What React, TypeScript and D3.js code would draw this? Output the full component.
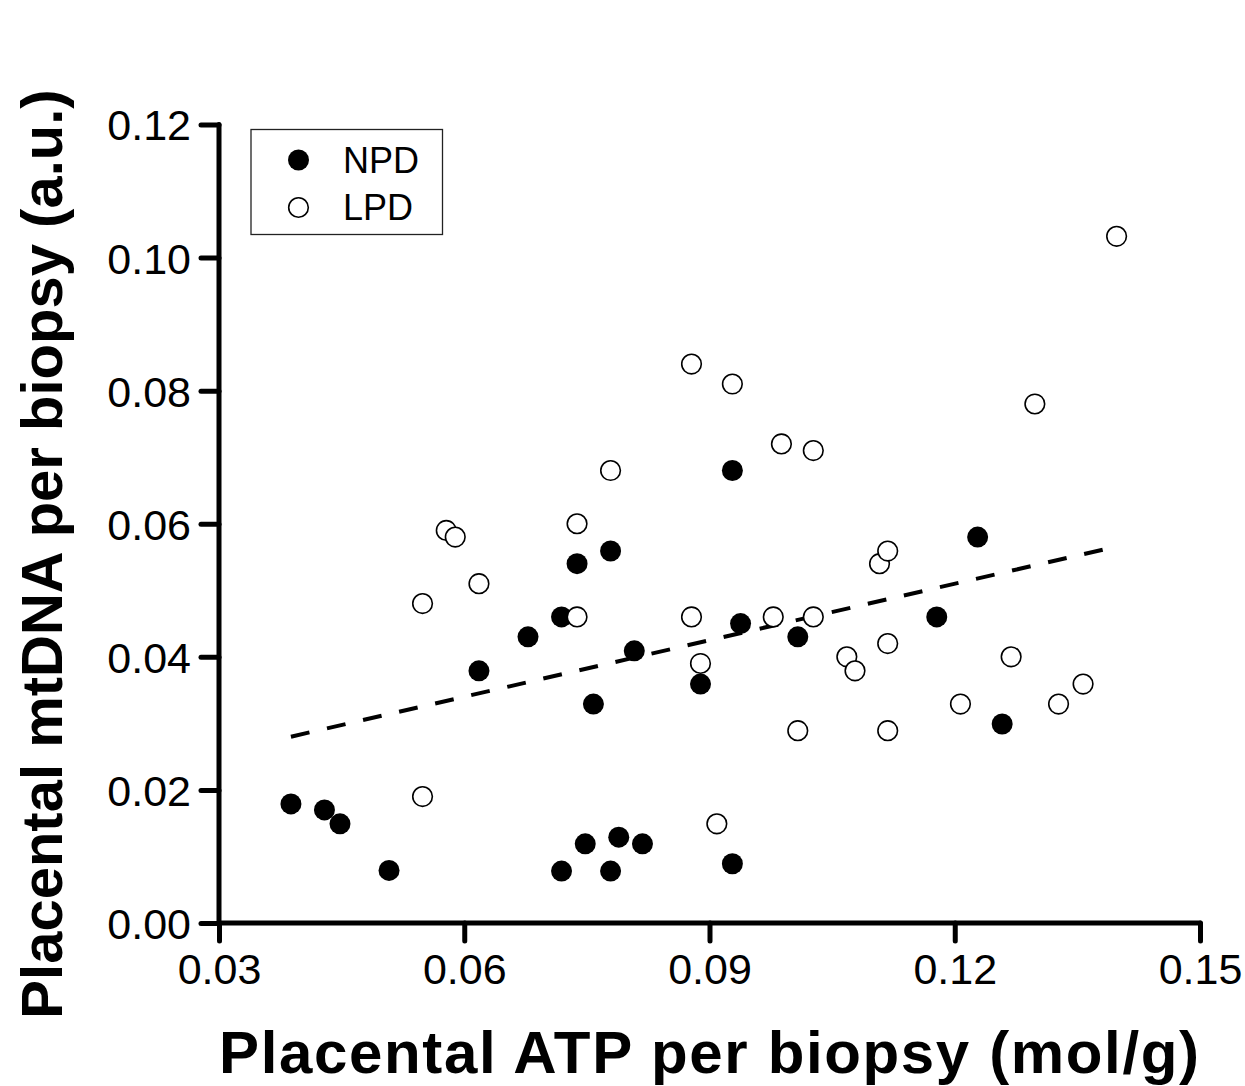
import React, { useRef, useEffect } from "react";
import * as d3 from "d3";

// NPD group (filled circles): ATP (mol/g) vs mtDNA (a.u.)
const npdX = [
  0.0388, 0.0429, 0.0448, 0.0508, 0.0618, 0.0678, 0.0719, 0.0738, 0.0779,
  0.0758, 0.0808, 0.0719, 0.0748, 0.0789, 0.0818, 0.0779, 0.0889, 0.0928,
  0.0938, 0.0928, 0.1008, 0.1178, 0.1228, 0.1258,
];
const npdY = [
  0.0179, 0.017, 0.0149, 0.0079, 0.0379, 0.043, 0.046, 0.054, 0.0559,
  0.0329, 0.0409, 0.0078, 0.0119, 0.0129, 0.0119, 0.0078, 0.0359, 0.068,
  0.045, 0.0089, 0.043, 0.046, 0.058, 0.0299,
];

// LPD group (open circles)
const lpdX = [
  0.0578, 0.0589, 0.0618, 0.0549, 0.0549, 0.0738, 0.0738, 0.0779, 0.0878,
  0.0878, 0.0889, 0.0928, 0.0909, 0.0988, 0.1027, 0.0978, 0.1027, 0.1008,
  0.1068, 0.1078, 0.1108, 0.1118, 0.1118, 0.1118, 0.1207, 0.1269, 0.1298,
  0.1327, 0.1357, 0.1398,
];
const lpdY = [
  0.059, 0.058, 0.051, 0.048, 0.019, 0.06, 0.046, 0.068, 0.084, 0.046,
  0.039, 0.081, 0.0149, 0.072, 0.071, 0.046, 0.046, 0.0289, 0.04, 0.0379,
  0.054, 0.0559, 0.042, 0.0289, 0.0329, 0.04, 0.078, 0.0329, 0.0359, 0.1032,
];

// regression line end points
const fitX = [0.0388, 0.1395];
const fitY = [0.028, 0.0565];

const xTicks = [0.03, 0.06, 0.09, 0.12, 0.15];
const yTicks = [0, 0.02, 0.04, 0.06, 0.08, 0.1, 0.12];

const seriesNames = ["NPD", "LPD"];

const xTitle = "Placental ATP per biopsy (mol/g)";
const yTitle = "Placental mtDNA per biopsy (a.u.)";

const FONT = "'Liberation Sans', Arial, Helvetica, sans-serif";

const App: React.FC = () => {
  const svgRef = useRef<SVGSVGElement>(null);

  useEffect(() => {
    const width = 1245;
    const height = 1086;
    const margin = { top: 124.5, right: 45, bottom: 163, left: 219 };

    const svg = d3.select(svgRef.current);
    svg.selectAll("*").remove();

    const x = d3
      .scaleLinear()
      .domain([0.03, 0.15])
      .range([margin.left, width - margin.right]);
    const y = d3
      .scaleLinear()
      .domain([0, 0.12])
      .range([height - margin.bottom, margin.top]);

    // axes
    const gx = svg
      .append("g")
      .attr("transform", `translate(0,${y(0)})`)
      .call(
        d3
          .axisBottom(x)
          .tickValues(xTicks)
          .tickFormat(d3.format(".2f"))
          .tickSize(18)
          .tickPadding(12)
      );
    const gy = svg
      .append("g")
      .attr("transform", `translate(${x(0.03)},0)`)
      .call(
        d3
          .axisLeft(y)
          .tickValues(yTicks)
          .tickFormat(d3.format(".2f"))
          .tickSize(18)
          .tickPadding(10)
      );

    [gx, gy].forEach((g) => {
      g.select(".domain")
        .attr("stroke", "#000")
        .attr("stroke-width", 5)
        .attr("stroke-linecap", "round");
      g.selectAll(".tick line")
        .attr("stroke", "#000")
        .attr("stroke-width", 5)
        .attr("stroke-linecap", "round");
      g.selectAll(".tick text")
        .attr("fill", "#000")
        .attr("font-family", FONT)
        .attr("font-size", 43);
    });
    gx.select(".domain").attr("d", `M${x(0.03)},0H${x(0.15)}`);
    gy.select(".domain").attr("d", `M0,${y(0.12)}V${y(0)}`);
    gy.selectAll(".tick text").attr("dy", "0.36em");
    gx.selectAll(".tick text").attr("dy", "0.72em");

    // regression line
    svg
      .append("path")
      .attr(
        "d",
        d3.line<number>()((fitX.map((v, i) => [x(v), y(fitY[i])]) as any))
      )
      .attr("fill", "none")
      .attr("stroke", "#000")
      .attr("stroke-width", 4)
      .attr("stroke-dasharray", "19 18");

    // points
    svg
      .append("g")
      .selectAll("circle")
      .data(npdX.map((v, i) => [v, npdY[i]]))
      .enter()
      .append("circle")
      .attr("cx", (d) => x(d[0]))
      .attr("cy", (d) => y(d[1]))
      .attr("r", 10.5)
      .attr("fill", "#000");

    svg
      .append("g")
      .selectAll("circle")
      .data(lpdX.map((v, i) => [v, lpdY[i]]))
      .enter()
      .append("circle")
      .attr("cx", (d) => x(d[0]))
      .attr("cy", (d) => y(d[1]))
      .attr("r", 9.8)
      .attr("fill", "#fff")
      .attr("stroke", "#000")
      .attr("stroke-width", 1.6);

    // legend
    const lg = svg.append("g").attr("transform", "translate(251,129.5)");
    lg.append("rect")
      .attr("width", 191.5)
      .attr("height", 105)
      .attr("fill", "#fff")
      .attr("stroke", "#222")
      .attr("stroke-width", 1.3);
    seriesNames.forEach((name, i) => {
      const cy = 30.5 + i * 47.5;
      lg.append("circle")
        .attr("cx", 47.5)
        .attr("cy", cy)
        .attr("r", i === 0 ? 10.5 : 9.8)
        .attr("fill", i === 0 ? "#000" : "#fff")
        .attr("stroke", "#000")
        .attr("stroke-width", i === 0 ? 0 : 1.6);
      lg.append("text")
        .attr("x", 92)
        .attr("y", cy + 12.5)
        .attr("font-family", FONT)
        .attr("font-size", 36)
        .attr("fill", "#000")
        .text(name);
    });

    // axis titles
    svg
      .append("text")
      .attr("x", 219)
      .attr("y", 1073)
      .attr("textLength", 980)
      .attr("lengthAdjust", "spacing")
      .attr("font-family", FONT)
      .attr("font-weight", "bold")
      .attr("font-size", 60)
      .attr("fill", "#000")
      .text(xTitle);

    svg
      .append("text")
      .attr("transform", `translate(62,554) rotate(-90)`)
      .attr("text-anchor", "middle")
      .attr("font-family", FONT)
      .attr("font-weight", "bold")
      .attr("font-size", 58)
      .attr("fill", "#000")
      .text(yTitle);
  }, []);

  return (
    <div style={{ position: "absolute", left: 0, top: 0 }}>
      <svg
        ref={svgRef}
        width={1245}
        height={1086}
        style={{ display: "block", background: "#fff" }}
      />
    </div>
  );
};

export default App;
